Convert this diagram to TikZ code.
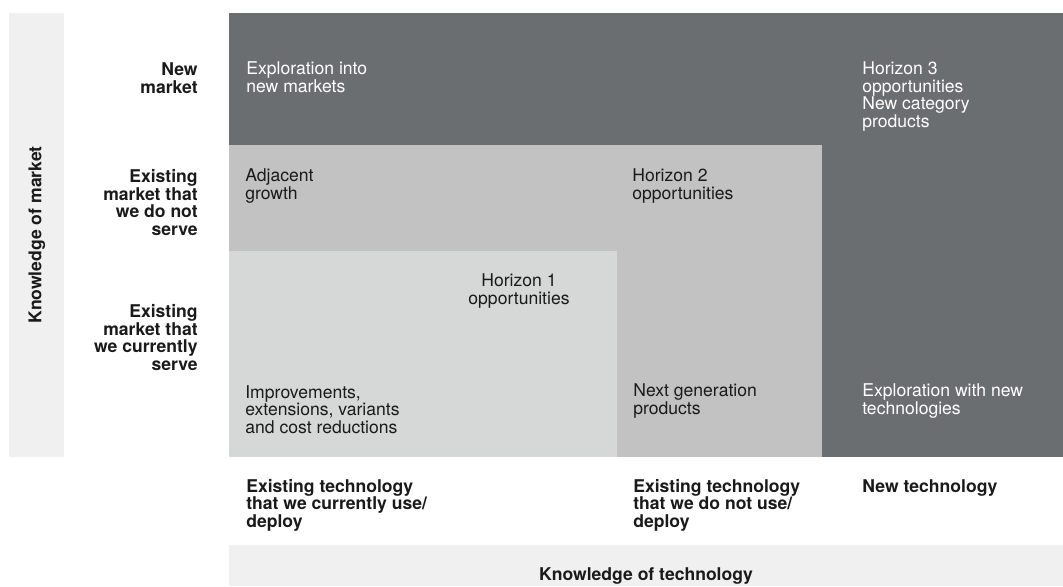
\documentclass[tikz,border=0pt]{standalone}
\usepackage{fontspec}
\setmainfont{TeX Gyre Heros}
\usetikzlibrary{positioning}
\definecolor{horizonthree}{HTML}{6B6E71}
\definecolor{horizontwo}{HTML}{C1C2C1}
\definecolor{horizonone}{HTML}{D6D8D7}
\definecolor{axisband}{HTML}{F0F0F0}
\definecolor{inktext}{HTML}{1A1A1A}
\tikzset{%
	cell/.style      = {anchor=base west, align=left, inner sep=0pt, text=inktext, font=\fontsize{10}{9.96}\selectfont},
	celldark/.style  = {cell, text=white},
	rowlabel/.style  = {anchor=base east, align=right, inner sep=0pt, text=inktext, font=\fontsize{10}{9.96}\selectfont\bfseries},
	collabel/.style  = {anchor=base west, align=left, inner sep=0pt, text=inktext, font=\fontsize{10}{9.96}\selectfont\bfseries},
	axislabel/.style = {inner sep=0pt, text=inktext, font=\fontsize{10}{9.96}\selectfont\bfseries},
}
\begin{document}
\begin{tikzpicture}[x=0.02cm,y=-0.02cm]
	\useasboundingbox (0,0) rectangle (1063,586);
	% axis bands
	\fill[axisband] (9,13) rectangle (64,457);
	\fill[axisband] (229,545) rectangle (1063,586);
	% horizons
	\fill[horizonthree] (229,13) rectangle (1063,457);
	\fill[horizontwo] (229,145) rectangle (822,457);
	\fill[horizonone] (229,251) rectangle (617,457);
	
	% base = last line
	\node[celldark] (explore) at (246,92) {Exploration into\\new markets};
	\node[celldark] (horthree) at (862,127) {Horizon 3\\opportunities\\New category\\products};
	\node[cell] (adjacent) at (245,199) {Adjacent\\growth};
	\node[cell] (hortwo) at (632,199) {Horizon 2\\opportunities};
	\node[cell, anchor=base, align=center] (horone) at (519,304) {Horizon 1\\opportunities};
	\node[cell] (improve) at (245,433) {Improvements,\\extensions, variants\\and cost reductions};
	\node[cell] (nextgen) at (633,414) {Next generation\\products};
	\node[celldark] (exploretech) at (862,414) {Exploration with new\\technologies};
	
	% market axis
	\node[rowlabel] (newmkt) at (198,93) {New\\market};
	\node[rowlabel] (othermkt) at (198,235) {Existing\\market that\\we do not\\serve};
	\node[rowlabel] (ownmkt) at (198,370) {Existing\\market that\\we currently\\serve};
	\node[axislabel, rotate=90] (mktaxis) at (37,235) {Knowledge of market};
	
	% technology axis
	\node[collabel] (owntech) at (246,527) {Existing technology\\that we currently use/\\deploy};
	\node[collabel] (othertech) at (633,527) {Existing technology\\that we do not use/\\deploy};
	\node[collabel] (newtech) at (862,492) {New technology};
	\node[axislabel, anchor=base] (techaxis) at (646,580) {Knowledge of technology};
\end{tikzpicture}
\end{document}
